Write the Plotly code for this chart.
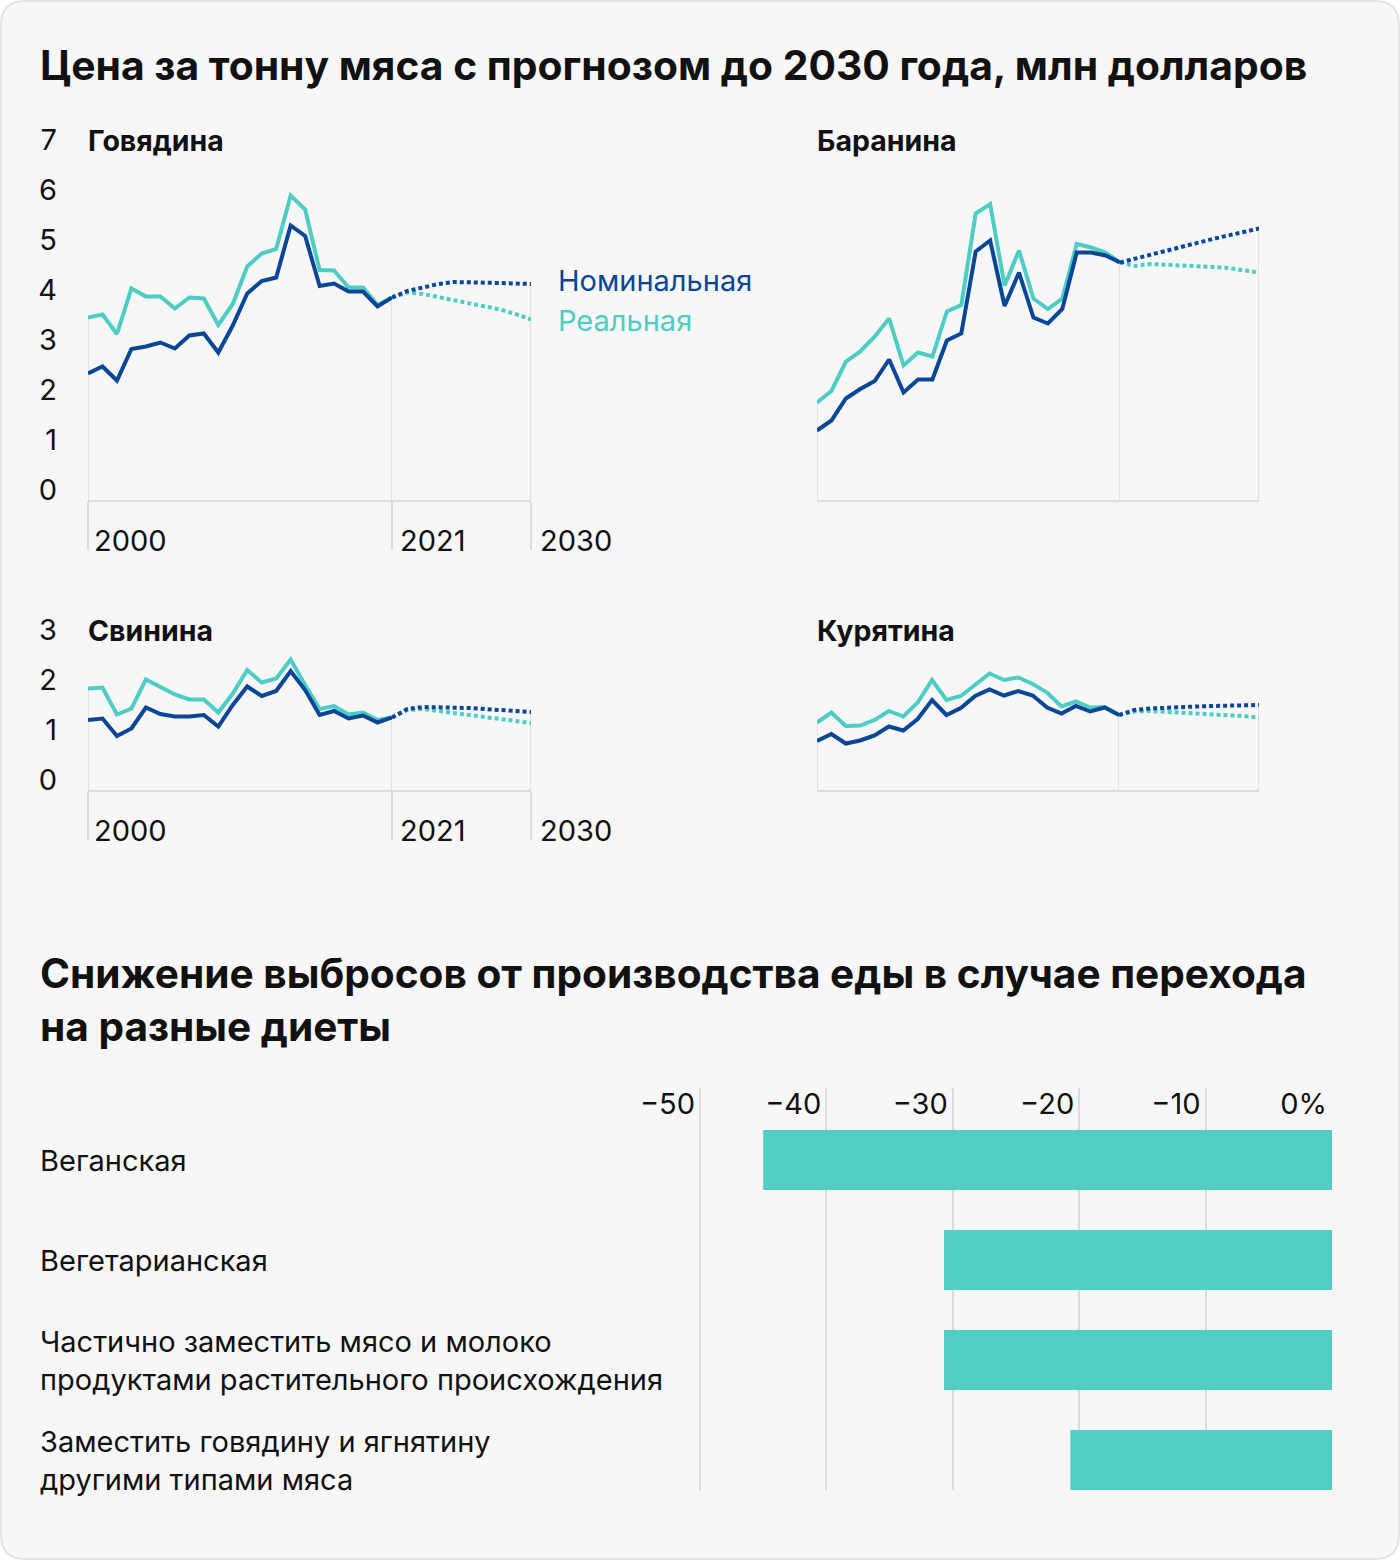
import plotly.graph_objects as go

W, H = 1400, 1560

# ---------------- data ----------------
years_hist = list(range(2000, 2022))
years_fc = list(range(2021, 2031))

beef_nom = [2.53, 2.67, 2.39, 3.02, 3.07, 3.15, 3.03, 3.29, 3.33, 2.95, 3.49,
            4.13, 4.38, 4.45, 5.49, 5.28, 4.28, 4.33, 4.17, 4.17, 3.87, 4.05]
beef_real = [3.65, 3.71, 3.32, 4.23, 4.07, 4.07, 3.83, 4.05, 4.03, 3.50, 3.92,
             4.67, 4.93, 5.02, 6.09, 5.81, 4.60, 4.59, 4.25, 4.25, 3.90, 4.05]
beef_nom_fc = [4.05, 4.18, 4.25, 4.32, 4.36, 4.36, 4.35, 4.34, 4.33, 4.32]
beef_real_fc = [4.05, 4.15, 4.12, 4.06, 4.01, 3.95, 3.88, 3.81, 3.72, 3.61]

lamb_nom = [1.39, 1.59, 2.03, 2.22, 2.38, 2.81, 2.15, 2.41, 2.41, 3.19, 3.33,
            4.97, 5.19, 3.88, 4.55, 3.65, 3.53, 3.82, 4.95, 4.95, 4.89, 4.75]
lamb_real = [1.95, 2.18, 2.77, 2.97, 3.27, 3.63, 2.69, 2.95, 2.87, 3.77, 3.90,
             5.73, 5.92, 4.29, 4.99, 4.03, 3.82, 4.03, 5.12, 5.05, 4.95, 4.75]
lamb_nom_fc = [4.75, 4.83, 4.92, 5.00, 5.08, 5.15, 5.22, 5.29, 5.36, 5.43]
lamb_real_fc = [4.75, 4.68, 4.72, 4.71, 4.70, 4.68, 4.66, 4.64, 4.60, 4.55]

pork_nom = [1.40, 1.43, 1.08, 1.23, 1.65, 1.52, 1.47, 1.47, 1.50, 1.27, 1.70,
            2.07, 1.88, 1.98, 2.38, 2.00, 1.50, 1.58, 1.43, 1.49, 1.35, 1.45]
pork_real = [2.03, 2.05, 1.51, 1.63, 2.21, 2.05, 1.91, 1.81, 1.81, 1.55, 1.93,
             2.40, 2.15, 2.23, 2.61, 2.10, 1.62, 1.68, 1.51, 1.55, 1.40, 1.45]
pork_nom_fc = [1.45, 1.62, 1.66, 1.66, 1.65, 1.64, 1.62, 1.60, 1.58, 1.56]
pork_real_fc = [1.45, 1.60, 1.62, 1.58, 1.53, 1.50, 1.46, 1.42, 1.38, 1.34]

chick_nom = [0.98, 1.12, 0.93, 0.99, 1.09, 1.27, 1.19, 1.42, 1.80, 1.50, 1.64,
             1.88, 2.01, 1.89, 1.98, 1.89, 1.65, 1.53, 1.68, 1.57, 1.65, 1.50]
chick_real = [1.35, 1.55, 1.28, 1.29, 1.40, 1.58, 1.47, 1.75, 2.20, 1.80, 1.88,
              2.10, 2.33, 2.20, 2.25, 2.12, 1.95, 1.67, 1.77, 1.65, 1.66, 1.50]
chick_nom_fc = [1.50, 1.60, 1.63, 1.65, 1.66, 1.67, 1.68, 1.69, 1.69, 1.70]
chick_real_fc = [1.50, 1.57, 1.58, 1.57, 1.55, 1.53, 1.51, 1.50, 1.48, 1.45]

year_labels = ["2000", "2021", "2030"]

diets = ["Веганская",
         "Вегетарианская",
         "Частично заместить мясо и молоко<br>продуктами растительного происхождения",
         "Заместить говядину и ягнятину<br>другими типами мяса"]
reduction = [-45, -30.7, -30.7, -20.7]
bar_ticks = [-50, -40, -30, -20, -10, 0]
bar_ticktext = ["−50", "−40", "−30", "−20", "−10", "0%"]

title1 = "Цена за тонну мяса с прогнозом до 2030 года, млн долларов"
title2 = "Снижение выбросов от производства еды в случае перехода<br>на разные диеты"

# ---------------- style ----------------
FONT = "Inter"
DARK = "#0a4696"
TEAL = "#4ecdc4"
GRID = "#dcdcdc"
TXT = "#111111"
BG = "#f7f7f7"
FS = 29
LW = 4


def px_x(p):
    return p / W


def px_y(p):
    return 1 - p / H


fig = go.Figure()
layout = {}
annotations = []

panels = [
    # name, nom, real, nom_fc, real_fc, x0, xb, x1, ytop, ybot, ymax, yticks, xticks, legend, label_y
    ("Говядина", beef_nom, beef_real, beef_nom_fc, beef_real_fc, 88, 392, 531, 150, 500, 7, True, True, True, 540),
    ("Баранина", lamb_nom, lamb_real, lamb_nom_fc, lamb_real_fc, 817, 1120, 1259, 150, 500, 7, False, False, False, None),
    ("Свинина", pork_nom, pork_real, pork_nom_fc, pork_real_fc, 88, 392, 531, 640, 790, 3, True, True, False, 830),
    ("Курятина", chick_nom, chick_real, chick_nom_fc, chick_real_fc, 817, 1119, 1259, 640, 790, 3, False, False, False, None),
]


def axname(kind, i):
    return kind + ("axis" if i == 1 else f"axis{i}")


def axref(kind, i):
    return kind if i == 1 else f"{kind}{i}"


for k, (name, nom, real, nom_fc, real_fc, x0, xb, x1, ytop, ybot, ymax,
        yticks, xticks, legend, label_y) in enumerate(panels, start=1):
    ih, ifc, iy = 2 * k - 1, 2 * k, k
    xh, xf, yy = axref("x", ih), axref("x", ifc), axref("y", iy)

    layout[axname("x", ih)] = dict(
        domain=[px_x(x0), px_x(xb)], range=[years_hist[0], years_hist[-1]], anchor=yy,
        showgrid=False, zeroline=False, showline=True, linecolor=GRID, linewidth=1.5,
        tickvals=[years_hist[0], years_hist[-1]] if xticks else [],
        ticks="outside" if xticks else "", ticklen=48, tickwidth=1.5, tickcolor=GRID,
        showticklabels=False, fixedrange=True, automargin=False)
    layout[axname("x", ifc)] = dict(
        domain=[px_x(xb), px_x(x1)], range=[years_fc[0], years_fc[-1]], anchor=yy,
        showgrid=False, zeroline=False, showline=True, linecolor=GRID, linewidth=1.5,
        tickvals=[years_fc[-1]] if xticks else [],
        ticks="outside" if xticks else "", ticklen=48, tickwidth=1.5, tickcolor=GRID,
        showticklabels=False, fixedrange=True, automargin=False)
    layout[axname("y", iy)] = dict(
        domain=[px_y(ybot), px_y(ytop)], range=[0, ymax], anchor=xh,
        showgrid=False, zeroline=False, showline=False,
        tickvals=list(range(ymax + 1)) if yticks else [],
        showticklabels=yticks, ticks="", ticklabelposition="outside top",
        ticklabelstandoff=30, ticklabelshift=10,
        tickfont=dict(family=FONT, size=FS, color=TXT), fixedrange=True, automargin=False)

    # drop lines
    for xs, ys, xr in [
        ([years_hist[0]] * 2, [0, max(nom[0], real[0])], xh),
        ([years_hist[-1]] * 2, [0, max(nom[-1], real[-1])], xh),
        ([years_fc[-1]] * 2, [0, max(nom_fc[-1], real_fc[-1])], xf),
    ]:
        fig.add_trace(go.Scatter(x=xs, y=ys, xaxis=xr, yaxis=yy, mode="lines",
                                 line=dict(color=GRID, width=1.5), hoverinfo="skip",
                                 showlegend=False, cliponaxis=False))

    fig.add_trace(go.Scatter(x=years_hist, y=real, xaxis=xh, yaxis=yy, mode="lines",
                             line=dict(color=TEAL, width=LW), showlegend=False))
    fig.add_trace(go.Scatter(x=years_hist, y=nom, xaxis=xh, yaxis=yy, mode="lines",
                             line=dict(color=DARK, width=LW), showlegend=False))
    fig.add_trace(go.Scatter(x=years_fc, y=real_fc, xaxis=xf, yaxis=yy, mode="lines",
                             line=dict(color=TEAL, width=LW, dash="4px,3px"), showlegend=False))
    fig.add_trace(go.Scatter(x=years_fc, y=nom_fc, xaxis=xf, yaxis=yy, mode="lines",
                             line=dict(color=DARK, width=LW, dash="4px,3px"), showlegend=False))

    annotations.append(dict(text=f"<b>{name}</b>", x=px_x(x0), y=px_y(ytop - 10),
                            xref="paper", yref="paper", xanchor="left", yanchor="middle",
                            xshift=-2, showarrow=False, font=dict(family=FONT, size=28.5, color=TXT)))

    if xticks:
        for yr, lab, xr, shift in [(years_hist[0], year_labels[0], xh, 4),
                                   (years_hist[-1], year_labels[1], xh, 6),
                                   (years_fc[-1], year_labels[2], xf, 7)]:
            annotations.append(dict(text=lab, x=yr, xref=xr, y=px_y(label_y), yref="paper",
                                    xanchor="left", yanchor="middle", xshift=shift,
                                    showarrow=False, font=dict(family=FONT, size=FS, color=TXT)))
    if legend:
        annotations.append(dict(text="Номинальная", x=years_fc[-1], xref=xf, y=nom_fc[-1], yref=yy,
                                xanchor="left", yanchor="middle", xshift=25, yshift=4,
                                showarrow=False, font=dict(family=FONT, size=FS, color=DARK)))
        annotations.append(dict(text="Реальная", x=years_fc[-1], xref=xf, y=real_fc[-1], yref=yy,
                                xanchor="left", yanchor="middle", xshift=25, yshift=-1,
                                showarrow=False, font=dict(family=FONT, size=FS, color=TEAL)))

# ---------------- bar chart ----------------
fig.add_trace(go.Bar(x=reduction, y=diets, orientation="h", xaxis="x9", yaxis="y5",
                     marker=dict(color=TEAL, line=dict(width=0)), opacity=0.97,
                     width=0.6, showlegend=False, hoverinfo="skip"))
# 12.64 px per percentage point; domain starts left of -50 so its label fits inside
bar_left_px = 632
layout["xaxis9"] = dict(domain=[px_x(bar_left_px), px_x(1332)],
                        range=[-(1332 - bar_left_px) / 12.64, 0], anchor="y5",
                        side="top", tickvals=bar_ticks, ticktext=bar_ticktext,
                        ticklabelposition="inside left", ticks="", ticklabelshift=-5,
                        showgrid=True, gridcolor=GRID, gridwidth=1.5, zeroline=False,
                        showline=False, tickfont=dict(family=FONT, size=FS, color=TXT),
                        fixedrange=True, automargin=False)
layout["yaxis5"] = dict(domain=[px_y(1490), px_y(1088)], type="category",
                        categoryorder="array", categoryarray=diets,
                        range=[3.3, -0.72], anchor="x9", showticklabels=False,
                        showgrid=False, zeroline=False, showline=False, fixedrange=True,
                        automargin=False)
for d in diets:
    annotations.append(dict(text=d, x=px_x(40), xref="paper", y=d, yref="y5",
                            xanchor="left", yanchor="middle", align="left", showarrow=False,
                            xshift=-2, font=dict(family=FONT, size=FS, color=TXT)))

# ---------------- titles ----------------
annotations.append(dict(text=f"<b>{title1}</b>", x=px_x(40), y=px_y(65), xref="paper", yref="paper",
                        xanchor="left", yanchor="middle", showarrow=False, xshift=-2,
                        font=dict(family=FONT, size=40.8, color=TXT)))
annotations.append(dict(text=f"<b>{title2}</b>", x=px_x(40), y=px_y(1000), xref="paper", yref="paper",
                        xanchor="left", yanchor="middle", align="left", showarrow=False, xshift=-2,
                        font=dict(family=FONT, size=40.6, color=TXT)))

# card background
r = 24
x0p, x1p, y0p, y1p = 1, W - 1, 1, H - 1
rx, ry = r / W, r / H
card = (f"M {px_x(x0p)+rx},{px_y(y0p)} L {px_x(x1p)-rx},{px_y(y0p)} "
        f"Q {px_x(x1p)},{px_y(y0p)} {px_x(x1p)},{px_y(y0p)-ry} "
        f"L {px_x(x1p)},{px_y(y1p)+ry} Q {px_x(x1p)},{px_y(y1p)} {px_x(x1p)-rx},{px_y(y1p)} "
        f"L {px_x(x0p)+rx},{px_y(y1p)} Q {px_x(x0p)},{px_y(y1p)} {px_x(x0p)},{px_y(y1p)+ry} "
        f"L {px_x(x0p)},{px_y(y0p)-ry} Q {px_x(x0p)},{px_y(y0p)} {px_x(x0p)+rx},{px_y(y0p)} Z")

fig.update_layout(
    width=W, height=H, margin=dict(l=0, r=0, t=0, b=0, pad=0, autoexpand=False),
    paper_bgcolor="#ffffff", plot_bgcolor="rgba(0,0,0,0)",
    font=dict(family=FONT, color=TXT),
    showlegend=False, annotations=annotations,
    shapes=[dict(type="path", path=card, xref="paper", yref="paper",
                 fillcolor=BG, line=dict(color="#e4e4e4", width=2), layer="below")],
    **layout,
)

fig.write_html("out.html", config={"displayModeBar": False},
               post_script="document.body.style.margin='0';")
